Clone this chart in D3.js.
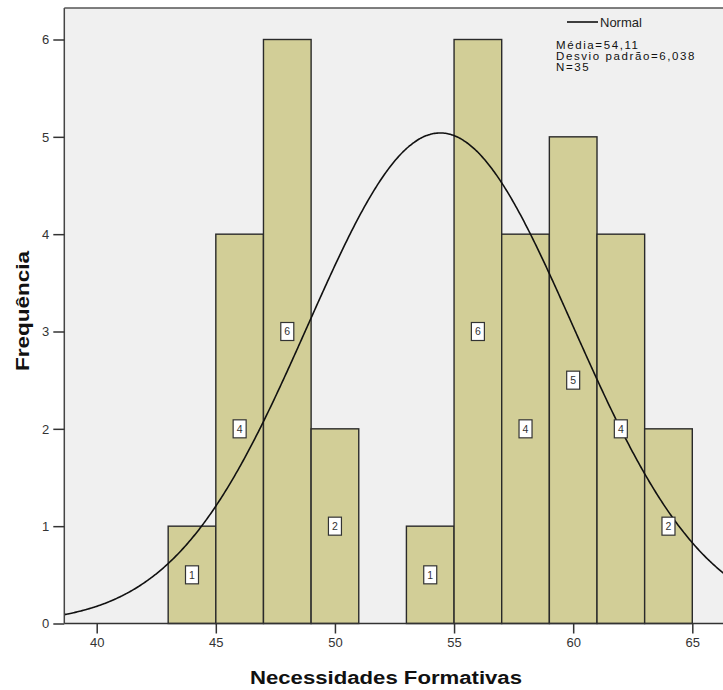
<!DOCTYPE html>
<html>
<head>
<meta charset="utf-8">
<script src="https://cdn.jsdelivr.net/npm/d3@7"></script>
<style>
  html, body { margin: 0; padding: 0; background: #ffffff; }
  svg { display: block; font-family: "Liberation Sans", Arial, sans-serif; }
</style>
</head>
<body>
<svg id="chart" width="723" height="690"></svg>
<script>
// ---- Data ----
const binStarts = [43, 45, 47, 49, 53, 55, 57, 59, 61, 63];
const binWidth = 2;
const counts = [1, 4, 6, 2, 1, 6, 4, 5, 4, 2];
const xTicks = [40, 45, 50, 55, 60, 65];
const yTicks = [0, 1, 2, 3, 4, 5, 6];
const statsLines = ["Média=54,11", "Desvio padrão=6,038", "N=35"];
const legendLabel = "Normal";
const xTitle = "Necessidades Formativas";
const yTitle = "Frequência";
// normal curve as drawn in the picture (centre, spread, peak height)
const curveCentre = 54.42;
const curveSpread = 5.57;
const curvePeak = 5.04;

(function () {
// ---- Layout ----
const svg = d3.select("#chart");
const pLeft = 64.3, pTop = 8, pBottom = 623.5;
const x = d3.scaleLinear().domain([40, 65]).range([96.7, 692.3]);
const xMin = x.invert(pLeft), xMax = x.invert(780);
const y = d3.scaleLinear().domain([0, 6]).range([pBottom, 39.5]);

// plot background
svg.append("rect")
  .attr("x", pLeft).attr("y", pTop)
  .attr("width", 780 - pLeft).attr("height", pBottom - pTop)
  .attr("fill", "#f0f0f0");

// bars
const bars = binStarts.map((s, i) => ({ s, e: s + binWidth, c: counts[i] }));
svg.append("g").selectAll("rect").data(bars).join("rect")
  .attr("x", d => x(d.s))
  .attr("y", d => y(d.c))
  .attr("width", d => x(d.e) - x(d.s))
  .attr("height", d => y(0) - y(d.c))
  .attr("fill", "#d2ce97")
  .attr("stroke", "#2a2a2a")
  .attr("stroke-width", 1.4);

// normal curve
const curvePts = d3.range(xMin, xMax, 0.05).map(v => [v, curvePeak * Math.exp(-0.5 * Math.pow((v - curveCentre) / curveSpread, 2))]);
svg.append("path")
  .datum(curvePts)
  .attr("fill", "none")
  .attr("stroke", "#111")
  .attr("stroke-width", 1.6)
  .attr("d", d3.line().x(d => x(d[0])).y(d => y(d[1])).curve(d3.curveBasis));

// count labels
const lab = svg.append("g").selectAll("g").data(bars).join("g")
  .attr("transform", d => `translate(${x(d.s + binWidth / 2)},${y(d.c / 2)})`);
lab.append("rect")
  .attr("x", -6.5).attr("y", -9).attr("width", 13).attr("height", 18)
  .attr("fill", "#ffffff").attr("stroke", "#333").attr("stroke-width", 1.2);
lab.append("text")
  .attr("text-anchor", "middle").attr("dy", "0.35em")
  .attr("font-size", 10.5).attr("fill", "#333")
  .text(d => d.c);

// frame lines (left & top)
svg.append("line").attr("x1", pLeft).attr("x2", pLeft).attr("y1", pTop).attr("y2", pBottom)
  .attr("stroke", "#444").attr("stroke-width", 1.5);
svg.append("line").attr("x1", pLeft).attr("x2", 723).attr("y1", pTop).attr("y2", pTop)
  .attr("stroke", "#555").attr("stroke-width", 1.5);

// x axis
const xAxis = svg.append("g").attr("transform", `translate(0,${pBottom})`)
  .call(d3.axisBottom(x).tickValues(xTicks).tickFormat(d3.format("d")).tickSize(10).tickSizeOuter(0).tickPadding(4));
xAxis.select(".domain").remove();
svg.append("line").attr("x1", pLeft).attr("x2", 723).attr("y1", pBottom).attr("y2", pBottom)
  .attr("stroke", "#333").attr("stroke-width", 1.5);
xAxis.selectAll(".tick line").attr("stroke", "#333").attr("stroke-width", 1.5);
xAxis.selectAll(".tick text").attr("font-size", 13).attr("fill", "#333")
  .attr("font-family", "Liberation Sans, Arial, sans-serif");

// y axis
const yAxis = svg.append("g").attr("transform", `translate(${pLeft},0)`)
  .call(d3.axisLeft(y).tickValues(yTicks).tickFormat(d3.format("d")).tickSize(11).tickSizeOuter(0).tickPadding(4));
yAxis.select(".domain").remove();
yAxis.selectAll(".tick line").attr("stroke", "#333").attr("stroke-width", 1.5);
yAxis.selectAll(".tick text").attr("font-size", 13).attr("fill", "#333")
  .attr("font-family", "Liberation Sans, Arial, sans-serif");

// titles
svg.append("text")
  .attr("x", 386).attr("y", 684)
  .attr("text-anchor", "middle")
  .attr("font-size", 18).attr("font-weight", "bold").attr("fill", "#111")
  .attr("textLength", 272).attr("lengthAdjust", "spacingAndGlyphs")
  .text(xTitle);
svg.append("text")
  .attr("transform", "translate(29,311) rotate(-90)")
  .attr("text-anchor", "middle")
  .attr("font-size", 18).attr("font-weight", "bold").attr("fill", "#111")
  .attr("textLength", 120).attr("lengthAdjust", "spacingAndGlyphs")
  .text(yTitle);

// legend
svg.append("line").attr("x1", 567).attr("x2", 598).attr("y1", 22).attr("y2", 22)
  .attr("stroke", "#111").attr("stroke-width", 1.6);
svg.append("text").attr("x", 600).attr("y", 26.5)
  .attr("font-size", 13).attr("fill", "#222").text(legendLabel);
svg.append("g").selectAll("text").data(statsLines).join("text")
  .attr("x", 556).attr("y", (d, i) => 48.5 + i * 11)
  .attr("font-size", 11.5).attr("letter-spacing", 1.6).attr("fill", "#111")
  .text(d => d);
})();
</script>
</body>
</html>
